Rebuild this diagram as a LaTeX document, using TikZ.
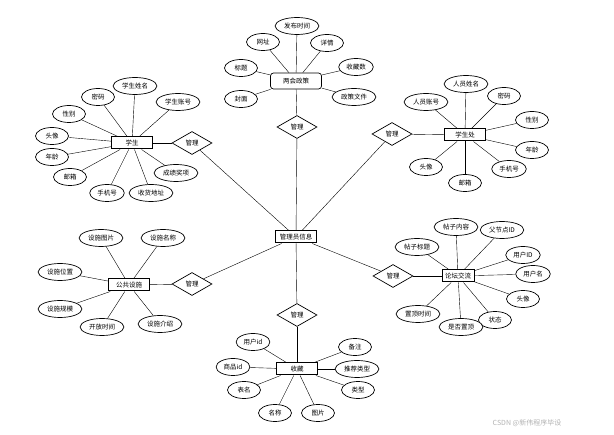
\documentclass[tikz,border=0pt]{standalone}
\usepackage{fontspec}
\setmainfont{Noto Sans CJK SC}
\usetikzlibrary{shapes.geometric,backgrounds}
\tikzset{
  lbl/.style={font=\fontsize{6.5}{7}\selectfont},
  attr/.style={lbl,draw,fill=white,ellipse,line width=0.7pt,inner xsep=2.5pt,inner ysep=1pt,minimum width=33pt,minimum height=17pt},
  ent/.style={lbl,draw,fill=white,line width=1pt,minimum width=41pt,minimum height=12pt,inner xsep=3pt,inner ysep=1pt},
  rel/.style={lbl,draw,fill=white,diamond,line width=0.7pt,inner sep=0pt,minimum width=40pt,minimum height=23pt},
}
\begin{document}
\begin{tikzpicture}[x=1pt,y=-1pt,line width=0.7pt]
  \useasboundingbox (0,0) rectangle (614,435);
  % hub
  \node[ent] (admin) at (296,237) {管理员信息};

  % entities and their relations
  \node[lbl,draw,fill=white,rounded corners=3pt,line width=0.7pt,minimum width=51pt,minimum height=16pt] (pol) at (296,81) {两会政策};
  \node[ent] (stu) at (132,143) {学生};
  \node[ent] (dept) at (465,135) {学生处};
  \node[ent] (fac) at (129,285) {公共设施};
  \node[ent,minimum width=0pt] (forum) at (458,276) {论坛交流};
  \node[ent] (fav) at (297,369) {收藏};

  \node[rel] (rpol) at (297,127) {管理};
  \node[rel] (rstu) at (192,143) {管理};
  \node[rel] (rdept) at (392,134) {管理};
  \node[rel] (rfac) at (192,284) {管理};
  \node[rel] (rforum) at (393,276) {管理};
  \node[rel] (rfav) at (297,315) {管理};

  \begin{scope}[on background layer]
  \foreach \e/\r in {pol/rpol,stu/rstu,dept/rdept,fac/rfac,forum/rforum,fav/rfav} {
    \draw (\e) -- (\r);
    \draw (\r) -- (admin);
  }
  \end{scope}

  % attributes
  \foreach \i/\px/\py/\txt in {1/297/26/发布时间,2/263/42/网址,3/327/43/详情,4/241/68/标题,
      5/356/67/收藏数,6/241/99/封面,7/354/97/政策文件} {
    \node[attr] (pol\i) at (\px,\py) {\txt};
    \begin{scope}[on background layer]\draw (pol\i) -- (pol);\end{scope}
  }
  \foreach \i/\px/\py/\txt in {1/135/86/学生姓名,2/178/102/学生账号,3/98/97/密码,4/69/114/性别,
      5/52/136/头像,6/52/157/年龄,7/70/177/邮箱,8/107/193/手机号,9/151/193/收货地址,10/176/173/成绩奖项} {
    \node[attr] (stu\i) at (\px,\py) {\txt};
    \begin{scope}[on background layer]\draw (stu\i) -- (stu);\end{scope}
  }
  \foreach \i/\px/\py/\txt in {1/466/84/人员姓名,2/426/102/人员账号,3/504/96/密码,4/532/120/性别,
      5/532/150/年龄,6/509/169/手机号,7/465/183/邮箱,8/426/167/头像} {
    \node[attr] (dept\i) at (\px,\py) {\txt};
    \begin{scope}[on background layer]\draw (dept\i) -- (dept);\end{scope}
  }
  \foreach \i/\px/\py/\txt in {1/101/238/设施图片,2/163/238/设施名称,3/60/272/设施位置,
      4/60/309/设施规模,5/102/327/开放时间,6/160/324/设施介绍} {
    \node[attr] (fac\i) at (\px,\py) {\txt};
    \begin{scope}[on background layer]\draw (fac\i) -- (fac);\end{scope}
  }
  \foreach \i/\px/\py/\txt in {1/456/227/帖子内容,2/502/230/父节点ID,3/417/247/帖子标题,4/523/255/用户ID,
      5/533/274/用户名,6/523/299/头像,7/495/320/状态,8/461/327/是否置顶,9/418/314/置顶时间} {
    \node[attr] (forum\i) at (\px,\py) {\txt};
    \begin{scope}[on background layer]\draw (forum\i) -- (forum);\end{scope}
  }
  \foreach \i/\px/\py/\txt in {1/253/342/用户id,2/233/367/商品id,3/244/390/表名,4/275/413/名称,
      5/318/413/图片,6/358/390/类型,7/357/369/推荐类型,8/355/347/备注} {
    \node[attr] (fav\i) at (\px,\py) {\txt};
    \begin{scope}[on background layer]\draw (fav\i) -- (fav);\end{scope}
  }

  \node[font=\fontsize{7}{8}\selectfont,text=gray!60] (mark) at (527,423) {CSDN @新伟程序毕设};
\end{tikzpicture}
\end{document}
